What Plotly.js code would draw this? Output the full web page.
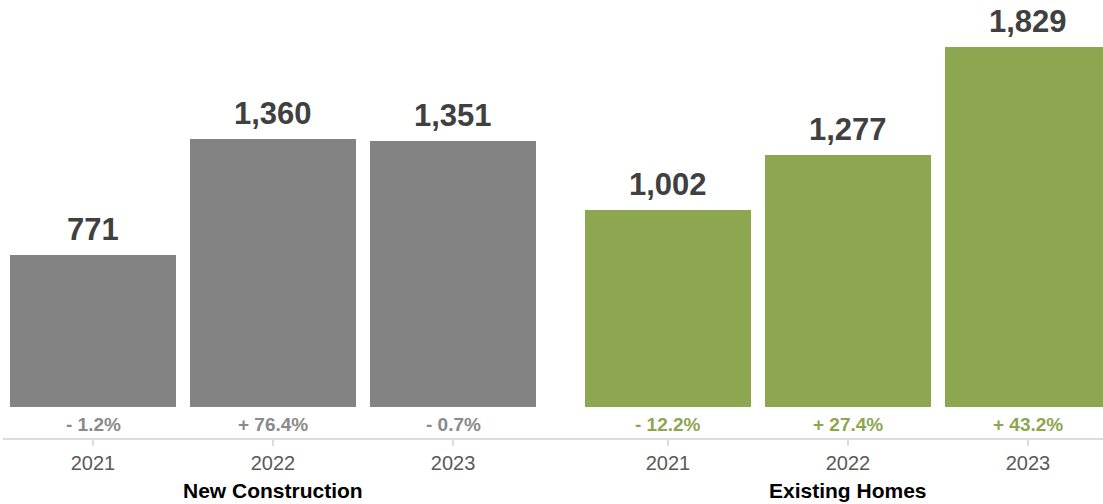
<!DOCTYPE html>
<html>
<head>
<meta charset="utf-8">
<script src="https://cdn.plot.ly/plotly-3.0.1.min.js"></script>
<style>html,body{margin:0;padding:0;background:#fff;}#chart{width:1103px;height:504px;}</style>
</head>
<body>
<div id="chart"></div>
<script>
const groups = ["New Construction", "Existing Homes"];
const years = ["2021", "2022", "2023"];
const newConstruction = [771, 1360, 1351];
const existingHomes = [1002, 1277, 1829];
const newChange = ["- 1.2%", "+ 76.4%", "- 0.7%"];
const existingChange = ["- 12.2%", "+ 27.4%", "+ 43.2%"];

const GRAY = "#838383", GREEN = "#8ca74f";
const groupGap = 0.194;
const FONT = "'Liberation Sans', Arial, Helvetica, sans-serif";

const series = [
  {name: groups[0], values: newConstruction, change: newChange, color: GRAY, pct: "#8a8a8a"},
  {name: groups[1], values: existingHomes, change: existingChange, color: GREEN, pct: GREEN}
];

const traces = [];
const annotations = [];
const tickvals = [], ticktext = [];
series.forEach((s, g) => {
  const xs = years.map((_, i) => g * (years.length + groupGap) + i);
  traces.push({
    type: "bar", x: xs, y: s.values, width: 0.922,
    marker: {color: s.color, line: {width: 0}},
    hoverinfo: "skip", showlegend: false
  });
  xs.forEach((x, i) => {
    tickvals.push(x); ticktext.push(years[i]);
    annotations.push({
      x: x, y: s.values[i], xref: "x", yref: "y", yanchor: "bottom", yshift: 6,
      text: s.values[i].toLocaleString("en-US"), showarrow: false,
      font: {family: FONT, size: 31, color: "#404040", weight: 700}
    });
    annotations.push({
      x: x, y: 0, xref: "x", yref: "y", yanchor: "middle", yshift: -17,
      text: s.change[i], showarrow: false,
      font: {family: FONT, size: 19, color: s.pct, weight: 700}
    });
  });
  annotations.push({
    x: xs[1], y: 0, xref: "x", yref: "paper", yanchor: "middle", yshift: -52,
    text: s.name, showarrow: false,
    font: {family: FONT, size: 21, color: "#000", weight: 700}
  });
});

const layout = {
  width: 1103, height: 504,
  margin: {l: 3, r: 0, t: 0, b: 66},
  paper_bgcolor: "#fff", plot_bgcolor: "#fff",
  bargap: 0,
  xaxis: {
    range: [-0.5, 5.611], tickvals: tickvals, ticktext: ticktext,
    showgrid: false, zeroline: false, showline: true, linecolor: "#dcdcdc", linewidth: 2,
    ticks: "outside", ticklen: 6, tickcolor: "#dcdcdc", tickwidth: 2,
    tickfont: {family: FONT, size: 20, color: "#5a5a5a"}, fixedrange: true
  },
  yaxis: {range: [-157, 2066], visible: false, showgrid: false, zeroline: false, fixedrange: true},
  annotations: annotations,
  showlegend: false
};

Plotly.newPlot("chart", traces, layout, {displayModeBar: false, staticPlot: true});
</script>
</body>
</html>
